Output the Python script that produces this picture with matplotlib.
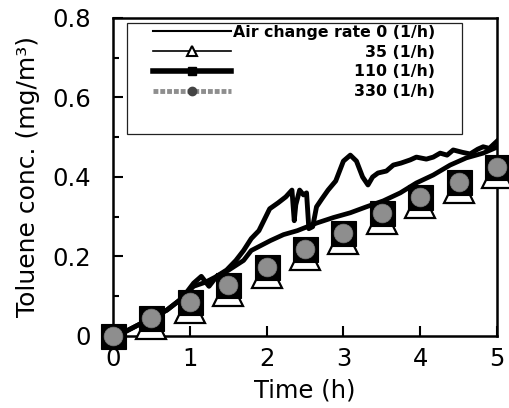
import matplotlib.pyplot as plt
from matplotlib.lines import Line2D
from matplotlib.patches import Rectangle
from matplotlib.ticker import MultipleLocator, FuncFormatter

plt.rcParams['font.family'] = ['DejaVu Sans']

# air change rate 0 (1/h), continuous trace
t_0 = [0, 0.15, 0.4, 0.7, 0.9, 1.05, 1.15, 1.25, 1.35, 1.48, 1.6, 1.7, 1.8, 1.9,
       2.04, 2.15, 2.25, 2.33, 2.36, 2.38, 2.43, 2.48, 2.52, 2.55, 2.6, 2.65,
       2.72, 2.8, 2.9, 3.0, 3.09, 3.17, 3.25, 3.32, 3.38, 3.45, 3.56, 3.65,
       3.75, 3.87, 3.95, 4.08, 4.17, 4.26, 4.35, 4.43, 4.55, 4.65, 4.75, 4.82,
       4.9, 5.0]
c_0 = [0, 0.01, 0.035, 0.065, 0.095, 0.133, 0.15, 0.125, 0.15, 0.166, 0.19,
       0.215, 0.245, 0.265, 0.32, 0.335, 0.35, 0.367, 0.29, 0.33, 0.367, 0.355,
       0.36, 0.27, 0.275, 0.325, 0.345, 0.367, 0.39, 0.44, 0.455, 0.44, 0.40,
       0.38, 0.40, 0.41, 0.415, 0.43, 0.435, 0.443, 0.45, 0.445, 0.45, 0.46,
       0.455, 0.468, 0.462, 0.458, 0.47, 0.476, 0.472, 0.49]

# ventilated runs, continuous trace (the curves overlap)
t_vent = [0, 0.15, 0.4, 0.7, 0.9, 1.05, 1.2, 1.35, 1.5, 1.7, 1.8, 1.9, 2.05,
          2.22, 2.4, 2.65, 2.87, 3.09, 3.3, 3.52, 3.74, 3.95, 4.17, 4.39, 4.6,
          4.82, 5.0]
c_vent = [0, 0.01, 0.035, 0.065, 0.095, 0.125, 0.135, 0.15, 0.165, 0.19, 0.215,
          0.225, 0.24, 0.255, 0.265, 0.284, 0.298, 0.31, 0.325, 0.34, 0.36,
          0.385, 0.405, 0.43, 0.448, 0.46, 0.475]

# marker readings every 0.5 h (35 1/h marker at 0 h is hidden in the original)
t_35 = [0.5, 1, 1.5, 2, 2.5, 3, 3.5, 4, 4.5, 5]
c_35 = [0.03, 0.071, 0.113, 0.159, 0.205, 0.243, 0.294, 0.335, 0.373, 0.411]
t_pts = [0, 0.5, 1, 1.5, 2, 2.5, 3, 3.5, 4, 4.5, 5]
c_110 = [0.0, 0.045, 0.086, 0.128, 0.174, 0.22, 0.258, 0.309, 0.35, 0.388, 0.426]
c_330 = [0.0, 0.045, 0.086, 0.128, 0.174, 0.22, 0.258, 0.309, 0.35, 0.388, 0.426]

labels = ["Air change rate 0 (1/h)", "35 (1/h)", "110 (1/h)", "330 (1/h)"]

fig = plt.figure(figsize=(5.1, 4.08), dpi=100)
ax = fig.add_axes([0.2216, 0.1765, 0.7529, 0.7794])

ax.plot(t_0, c_0, 'k-', lw=3.5)
ax.plot(t_vent, c_vent, 'k-', lw=3.4)
ax.plot(t_35, c_35, '^', ms=21.5, mfc='white', mec='k', mew=1.6, ls='none',
        clip_on=False, zorder=3)
ax.plot(t_pts, c_110, 's', ms=18, mfc='k', mec='k', mew=0.8, ls='none',
        clip_on=False, zorder=4)
ax.plot(t_pts, c_330, 'o', ms=13.5, mfc='#8e8e8e', mec='#7a7a7a', mew=0.5,
        ls='none', clip_on=False, zorder=5)

ax.set_xlim(0, 5)
ax.set_ylim(0, 0.8)
ax.xaxis.set_major_locator(MultipleLocator(1))
ax.yaxis.set_major_locator(MultipleLocator(0.2))
ax.yaxis.set_minor_locator(MultipleLocator(0.1))
fmt = FuncFormatter(lambda v, p: '%g' % round(v, 2))
ax.xaxis.set_major_formatter(fmt)
ax.yaxis.set_major_formatter(fmt)
ax.tick_params(which='both', direction='in', labelsize=17.5, width=1.5)
ax.tick_params(which='major', length=7)
ax.tick_params(which='minor', length=4)
ax.tick_params(axis='x', pad=8)
ax.tick_params(axis='y', pad=16)
for s in ax.spines.values():
    s.set_linewidth(1.8)

ax.set_xlabel("Time (h)", fontsize=17.5, labelpad=5)
ax.set_ylabel("Toluene conc. (mg/m³)", fontsize=18, labelpad=9)

# legend: frame drawn separately, labels right-aligned
ax.add_patch(Rectangle((0.036, 0.635), 0.873, 0.349, transform=ax.transAxes,
                       fill=False, ec='#222222', lw=0.9, zorder=6))
handles = [
    Line2D([], [], color='k', lw=1.5),
    Line2D([], [], color='k', lw=1.2, marker='^', ms=7, mfc='white', mec='k', mew=1.5),
    Line2D([], [], color='k', lw=4, marker='s', ms=6, mfc='k'),
    Line2D([], [], color='#8e8e8e', lw=3.5, ls=(0, (1, 0.4)), marker='o', ms=6,
           mfc='#444444', mec='#444444'),
]
leg = ax.legend(handles, labels, loc='upper left', bbox_to_anchor=(0.104, 0.978),
                frameon=False, prop={'size': 11.3, 'weight': 'bold'},
                handlelength=5.0, labelspacing=0.3, borderpad=0,
                handletextpad=0.1, borderaxespad=0)

fig.canvas.draw()
renderer = fig.canvas.get_renderer()
widths = [t.get_window_extent(renderer).width for t in leg.get_texts()]
rows = leg._legend_handle_box.get_children()[0].get_children()
for row, w in zip(rows, widths):
    row.sep = row.sep + (max(widths) - w) * 72.0 / fig.dpi

fig.savefig("out.png", dpi=100)
